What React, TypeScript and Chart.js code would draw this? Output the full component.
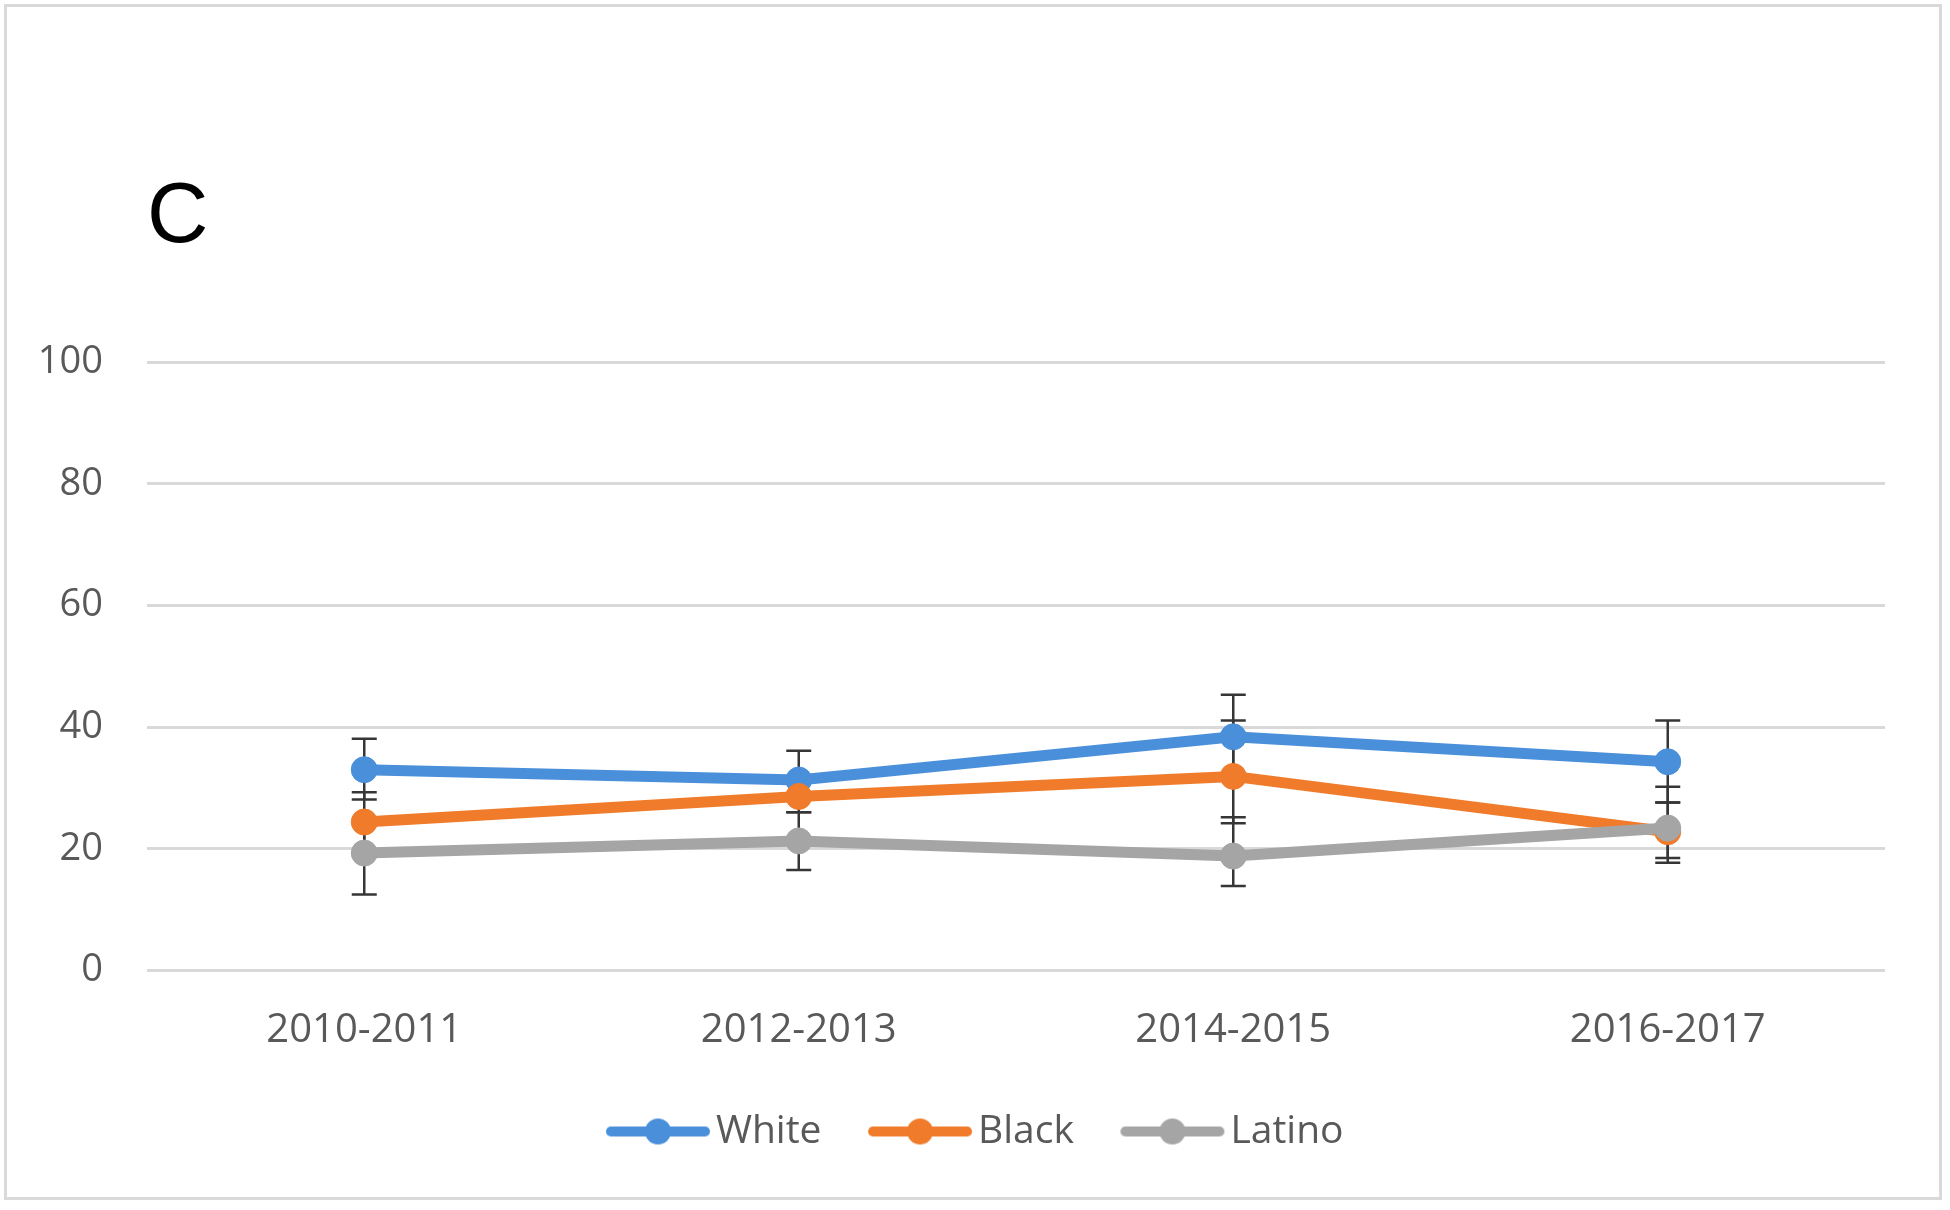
import React, { useEffect, useRef } from "react";
import { Chart, registerables } from "chart.js";

Chart.register(...registerables);

// ---- data ----
const categories = ["2010-2011", "2012-2013", "2014-2015", "2016-2017"];
const seriesNames = ["White", "Black", "Latino"];
const whiteValues = [33.0, 31.3, 38.4, 34.3];
const blackValues = [24.4, 28.6, 31.9, 22.8];
const latinoValues = [19.3, 21.3, 18.8, 23.4];
const whiteLow = [28.1, 28.6, 32.0, 27.6];
const whiteHigh = [38.1, 36.1, 45.3, 41.1];
const blackLow = [19.3, 26.0, 24.2, 17.7];
const blackHigh = [29.3, 31.3, 41.1, 30.2];
const latinoLow = [12.5, 16.5, 13.9, 18.5];
const latinoHigh = [24.4, 26.0, 25.2, 27.6];
const panelLabel = "C";
const yMin = 0;
const yMax = 100;
const yStep = 20;

// ---- styles ----
const seriesColors = ["#4A8FDA", "#F07B2A", "#A5A5A5"];
const textColor = "#595959";
const gridColor = "#d9d9d9";

const errorBarPlugin = {
  id: "errorBars",
  beforeDatasetsDraw(chart: any) {
    const { ctx } = chart;
    const x = chart.scales.x;
    const y = chart.scales.y;
    ctx.save();
    ctx.strokeStyle = "#363636";
    ctx.lineWidth = 2.5;
    chart.data.datasets.forEach((ds: any) => {
      const lo: number[] = ds.errLow || [];
      const hi: number[] = ds.errHigh || [];
      lo.forEach((l: number, i: number) => {
        const px = x.getPixelForValue(i);
        const y1 = y.getPixelForValue(l);
        const y2 = y.getPixelForValue(hi[i]);
        ctx.beginPath();
        ctx.moveTo(px, y1);
        ctx.lineTo(px, y2);
        ctx.moveTo(px - 12.5, y1);
        ctx.lineTo(px + 12.5, y1);
        ctx.moveTo(px - 12.5, y2);
        ctx.lineTo(px + 12.5, y2);
        ctx.stroke();
      });
    });
    ctx.restore();
  },
};

// centre the legend row as in the original figure (legend spans the plot, not the y-axis gutter)
const legendShiftPlugin = {
  id: "legendShift",
  afterLayout(chart: any) {
    if (chart.legend) {
      chart.legend.left += 40;
    }
  },
};

function makeLegendIcon(color: string): HTMLCanvasElement {
  const c = document.createElement("canvas");
  c.width = 106;
  c.height = 28;
  const g = c.getContext("2d")!;
  g.strokeStyle = color;
  g.lineWidth = 10;
  g.lineCap = "round";
  g.beginPath();
  g.moveTo(6, 14);
  g.lineTo(100, 14);
  g.stroke();
  g.fillStyle = color;
  g.beginPath();
  g.arc(53, 14, 13, 0, Math.PI * 2);
  g.fill();
  return c;
}

export default function App() {
  const canvasRef = useRef<HTMLCanvasElement | null>(null);

  useEffect(() => {
    if (!canvasRef.current) return;
    const icons = seriesColors.map((c) => makeLegendIcon(c));
    const valueSets = [whiteValues, blackValues, latinoValues];
    const lows = [whiteLow, blackLow, latinoLow];
    const highs = [whiteHigh, blackHigh, latinoHigh];

    const datasets: any[] = seriesNames.map((name, i) => ({
      label: name,
      data: valueSets[i],
      errLow: lows[i],
      errHigh: highs[i],
      borderColor: seriesColors[i],
      backgroundColor: seriesColors[i],
      borderWidth: 11,
      borderCapStyle: "round",
      borderJoinStyle: "round",
      pointRadius: 13,
      pointBorderWidth: 1,
      pointBackgroundColor: seriesColors[i],
      pointBorderColor: seriesColors[i],
      tension: 0,
      order: seriesNames.length - i,
    }));

    const chart = new Chart(canvasRef.current, {
      type: "line",
      data: { labels: categories, datasets },
      plugins: [errorBarPlugin, legendShiftPlugin],
      options: {
        animation: false,
        responsive: false,
        maintainAspectRatio: false,
        layout: { padding: { top: 168, bottom: 49, left: 38, right: 65 } },
        plugins: {
          tooltip: { enabled: false },
          title: {
            display: true,
            text: panelLabel,
            align: "start",
            fullSize: false,
            color: "#000000",
            font: { family: "'Liberation Sans', Arial, sans-serif", size: 85, weight: "normal", lineHeight: 1.2 },
            padding: { top: 0, bottom: 92 },
          },
          legend: {
            display: true,
            position: "bottom",
            labels: {
              usePointStyle: true,
              pointStyleWidth: 77,
              padding: 60,
              color: textColor,
              font: { family: "'Open Sans', sans-serif", size: 39 },
              generateLabels: (ch: any) =>
                ch.data.datasets.map((ds: any, i: number) => ({
                  text: ds.label,
                  pointStyle: icons[i],
                  fillStyle: seriesColors[i],
                  strokeStyle: seriesColors[i],
                  lineWidth: 0,
                  hidden: false,
                  datasetIndex: i,
                  fontColor: textColor,
                })),
            },
          },
        },
        scales: {
          x: {
            type: "category",
            offset: true,
            grid: { display: false, drawTicks: false },
            border: { display: false },
            ticks: {
              color: textColor,
              padding: 36,
              font: { family: "'Open Sans', sans-serif", size: 40 },
              maxRotation: 0,
              autoSkip: false,
            },
            afterFit: (scale: any) => {
              scale.height = 81.5;
            },
          },
          y: {
            min: yMin,
            max: yMax,
            grid: { color: gridColor, lineWidth: 3, drawTicks: false },
            border: { display: false },
            ticks: {
              stepSize: yStep,
              color: textColor,
              padding: 44,
              font: { family: "'Open Sans', sans-serif", size: 38 },
            },
            afterFit: (scale: any) => {
              scale.width = 109;
            },
          },
        },
      } as any,
    });
    return () => chart.destroy();
  }, []);

  return (
    <div style={{ position: "absolute", left: 0, top: 0, width: 1950, height: 1210, background: "#ffffff", overflow: "hidden" }}>
      <div
        style={{
          position: "absolute",
          left: 4,
          top: 4,
          width: 1938,
          height: 1196,
          border: "3px solid #d9d9d9",
          boxSizing: "border-box",
        }}
      />
      <canvas
        ref={canvasRef}
        width={1950}
        height={1210}
        style={{ position: "absolute", left: 0, top: 0, width: 1950, height: 1210, display: "block" }}
      />
    </div>
  );
}
